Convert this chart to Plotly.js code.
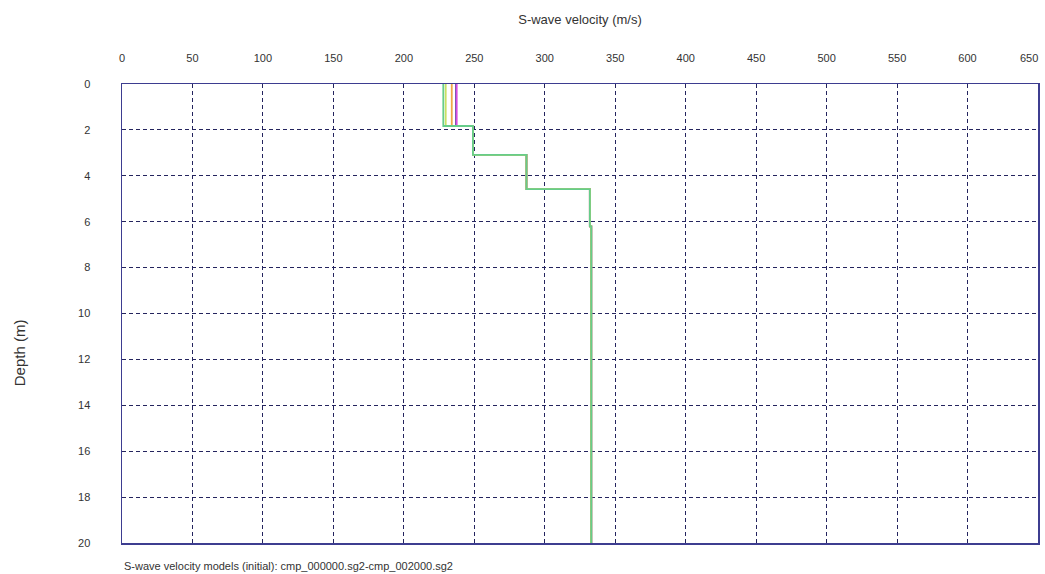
<!DOCTYPE html>
<html><head><meta charset="utf-8">
<script src="https://cdn.plot.ly/plotly-3.0.1.min.js"></script>
<style>html,body{margin:0;padding:0;background:#fff}#chart{width:1045px;height:574px}</style>
</head><body><div id="chart"></div>
<script>
// Layer top depths (m); last entry is bottom of model
const layerDepths = [0, 1.83, 3.09, 4.58, 6.2, 20];
// S-wave velocity (m/s) per layer for each model
const modelNames = ["model A", "model B", "model C", "model D", "model E"];
const velPurple  = [237, 249, 287, 332, 333];
const velMagenta = [237.5, 249, 287, 332, 333];
const velOrange  = [234, 249, 287, 332, 333];
const velYellow  = [229.7, 249, 287, 332, 333];
const velGreen   = [228, 249, 287, 332, 333];
const colors = ["#5a4a9e", "#d64be0", "#f0a848", "#c9e063", "#66cc8a"];
const tickVals = [0,50,100,150,200,250,300,350,400,450,500,550,600,650];
const tickText = tickVals.map(v => v === 650 ? "" : String(v));
const lastTick = tickVals[tickVals.length-1];

function stepTrace(vel, color, name){
  const x = vel.concat([vel[vel.length-1]]);
  const y = layerDepths.slice();
  return {x:x, y:y, mode:"lines", line:{color:color, width:1.8, shape:"vh"}, name:name, hoverinfo:"skip"};
}
const series = [velPurple, velMagenta, velOrange, velYellow, velGreen];
const data = series.map((v,i)=>stepTrace(v, colors[i], modelNames[i]));

const gridCol = "#24245e";
const frameCol = "#3d3d90";
const layout = {
  width:1045, height:574,
  margin:{l:122, r:7, t:84, b:31},
  paper_bgcolor:"#fff", plot_bgcolor:"#fff",
  showlegend:false,
  font:{family:"Liberation Sans, Arial, sans-serif", size:11, color:"#333"},
  xaxis:{
    side:"top", range:[0,650], tickvals:tickVals, ticktext:tickText, ticks:"",
    showgrid:true, gridcolor:gridCol, griddash:"4px,3px", gridwidth:1,
    showline:true, linecolor:frameCol, linewidth:1.5, mirror:true,
    zeroline:false, ticklabelstandoff:16,
    tickfont:{size:11, color:"#333"},
    title:{text:"S-wave velocity (m/s)", font:{size:13, color:"#333"}, standoff:24}
  },
  yaxis:{
    range:[20,0], dtick:2, ticks:"",
    showgrid:true, gridcolor:gridCol, griddash:"4px,3px", gridwidth:1,
    showline:true, linecolor:frameCol, linewidth:1.5, mirror:true,
    zeroline:false, ticklabelstandoff:28,
    tickfont:{size:11, color:"#333"}
  },
  annotations:[
    {text:String(lastTick), xref:"x", yref:"paper", x:lastTick, y:1, yshift:18, xshift:2,
     xanchor:"right", yanchor:"bottom", showarrow:false, font:{size:11, color:"#333"}},
    {text:"Depth (m)", xref:"paper", yref:"paper", x:-0.111, y:0.414, textangle:-90,
     showarrow:false, font:{size:15, color:"#333"}, xanchor:"center", yanchor:"middle"},
    {text:"S-wave velocity models (initial): cmp_000000.sg2-cmp_002000.sg2", xref:"paper", yref:"paper",
     x:0, y:-0.032, xanchor:"left", yanchor:"top", showarrow:false, font:{size:11, color:"#333"}}
  ]
};
Plotly.newPlot("chart", data, layout, {displayModeBar:false, staticPlot:true});
</script>
</body></html>
